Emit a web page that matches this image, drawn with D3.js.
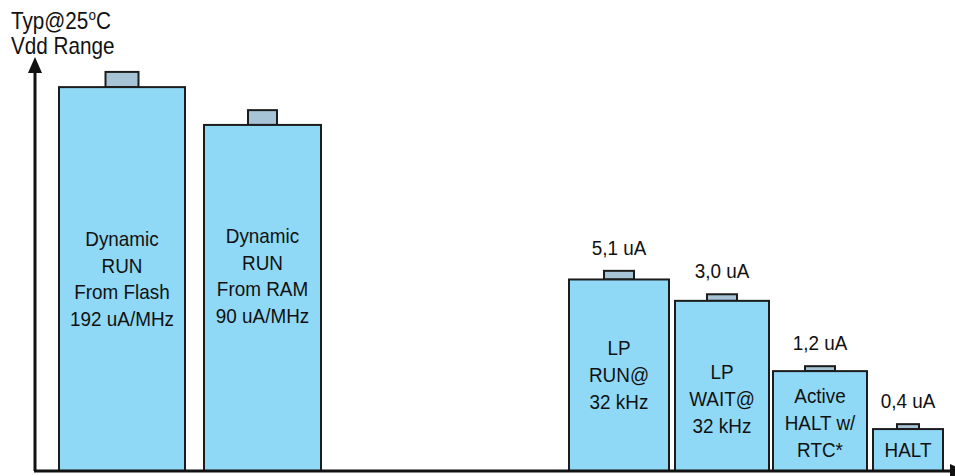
<!DOCTYPE html>
<html>
<head>
<meta charset="utf-8">
<script src="https://cdn.jsdelivr.net/npm/d3@7"></script>
<style>
  body { margin: 0; background: #fff; }
  svg text { font-family: "Liberation Sans", Arial, sans-serif; fill: #111; }
</style>
</head>
<body>
<svg id="chart"></svg>
<script>
// power modes, left to right
const modeLabels = [
  ['Dynamic', 'RUN', 'From Flash', '192 uA/MHz'],
  ['Dynamic', 'RUN', 'From RAM', '90 uA/MHz'],
  ['LP', 'RUN@', '32 kHz'],
  ['LP', 'WAIT@', '32 kHz'],
  ['Active', 'HALT w/', 'RTC*'],
  ['HALT'],
];
const valueLabels = ['', '', '5,1 uA', '3,0 uA', '1,2 uA', '0,4 uA'];
// schematic (not to scale) typical level and top of Vdd range, 0..100
const typLevel = [93.4, 84.2, 46.6, 41.4, 24.3, 10.2];
const maxLevel = [97.1, 87.8, 48.7, 43.0, 25.5, 11.4];

// layout (offset from y axis, px)
const barLeft = [24, 169, 534, 640, 738, 838];
const barWidth = [126, 117, 100, 94, 94, 70];
const capWidth = [33, 29, 30, 30, 30, 22];
const labelShift = [0, -22, 0, 13, 2, 0];

const W = 955, H = 476;
const squeeze = 0.9; // condensed look of the original lettering
const svg = d3.select('#chart').attr('width', W).attr('height', H);

const x = d3.scaleLinear().domain([0, 920]).range([35, 955]);
const y = d3.scaleLinear().domain([0, 100]).range([471, 60]);

const data = modeLabels.map((lines, i) => ({
  lines, value: valueLabels[i], typ: typLevel[i], max: maxLevel[i],
  x0: barLeft[i], w: barWidth[i], cw: capWidth[i], shift: labelShift[i],
}));

const g = svg.append('g');

// range caps
g.selectAll('.cap').data(data).join('rect')
  .attr('class', 'cap')
  .attr('x', (d) => x(d.x0 + d.w / 2 - d.cw / 2))
  .attr('y', (d) => y(d.max))
  .attr('width', (d) => x(d.cw) - x(0))
  .attr('height', (d) => y(d.typ) - y(d.max))
  .attr('fill', '#a6c4d5')
  .attr('stroke', '#1c1c1c')
  .attr('stroke-width', 2);

// bars
g.selectAll('.bar').data(data).join('rect')
  .attr('class', 'bar')
  .attr('x', (d) => x(d.x0))
  .attr('y', (d) => y(d.typ))
  .attr('width', (d) => x(d.w) - x(0))
  .attr('height', (d) => y(0) - y(d.typ))
  .attr('fill', '#8fd9f7')
  .attr('stroke', '#1c1c1c')
  .attr('stroke-width', 2);

// labels inside bars and values above
const lh = 26.8;
data.forEach((d) => {
  const cx = x(d.x0 + d.w / 2);
  const cy = (y(d.typ) + y(0)) / 2 + d.shift;
  const t = g.append('text')
    .attr('transform', `translate(${cx},${cy}) scale(${squeeze},1)`)
    .attr('text-anchor', 'middle')
    .attr('font-size', 21);
  d.lines.forEach((line, k) => {
    t.append('tspan')
      .attr('x', 0)
      .attr('y', (k - (d.lines.length - 1) / 2) * lh + 7)
      .text(line);
  });
  if (d.value) {
    g.append('text')
      .attr('transform', `translate(${cx},${y(d.max) - 16}) scale(${squeeze},1)`)
      .attr('text-anchor', 'middle')
      .attr('font-size', 21)
      .text(d.value);
  }
});

// axes with arrow heads
svg.append('line')
  .attr('x1', 35).attr('y1', y(0)).attr('x2', 35).attr('y2', 70)
  .attr('stroke', '#111').attr('stroke-width', 3);
svg.append('path')
  .attr('d', 'M35,57 L42,73 L28,73 Z')
  .attr('fill', '#111');
svg.append('line')
  .attr('x1', 34).attr('y1', y(0)).attr('x2', 952).attr('y2', y(0))
  .attr('stroke', '#111').attr('stroke-width', 3);
svg.append('path')
  .attr('d', `M950,${y(0) - 7} L966,${y(0)} L950,${y(0) + 7} Z`)
  .attr('fill', '#111');

// axis title
const title = svg.append('text')
  .attr('transform', `translate(11,29) scale(${squeeze},1)`)
  .attr('font-size', 23);
title.append('tspan').text('Typ@25');
title.append('tspan').attr('dy', -9).attr('font-size', 15).text('o');
title.append('tspan').attr('dy', 9).text('C');
svg.append('text')
  .attr('transform', `translate(11,54) scale(${squeeze},1)`)
  .attr('font-size', 23)
  .text('Vdd Range');
</script>
</body>
</html>
